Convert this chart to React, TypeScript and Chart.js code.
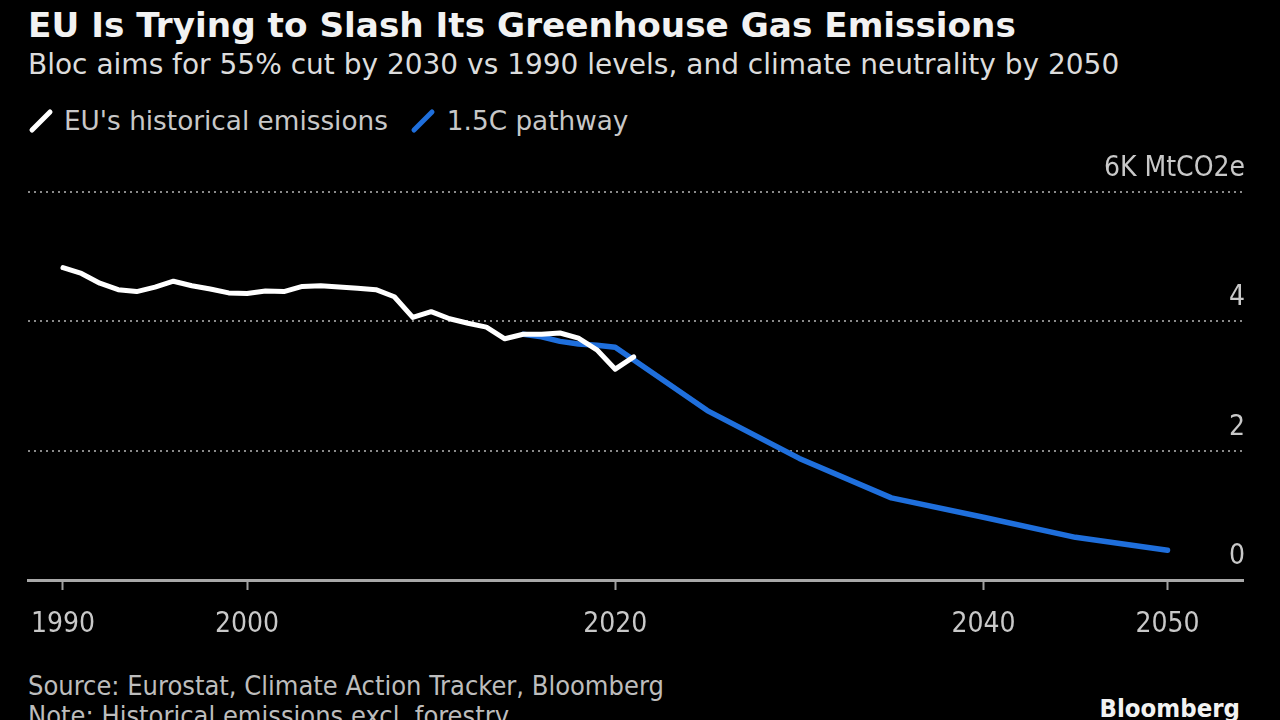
import React, { useEffect, useRef } from "react";
import { Chart, registerables } from "chart.js";
Chart.register(...registerables);

const historicalYears = [1990, 1991, 1992, 1993, 1994, 1995, 1996, 1997, 1998, 1999, 2000, 2001, 2002, 2003, 2004, 2005, 2006, 2007, 2008, 2009, 2010, 2011, 2012, 2013, 2014, 2015, 2016, 2017, 2018, 2019, 2020, 2021];
const historicalValues = [4.83, 4.74, 4.59, 4.49, 4.46, 4.53, 4.62, 4.55, 4.5, 4.44, 4.43, 4.47, 4.46, 4.54, 4.55, 4.53, 4.51, 4.49, 4.38, 4.06, 4.15, 4.04, 3.97, 3.91, 3.73, 3.8, 3.8, 3.82, 3.74, 3.56, 3.26, 3.45];

const pathwayYears = [2015, 2016, 2017, 2018, 2019, 2020, 2025, 2030, 2035, 2040, 2045, 2050];
const pathwayValues = [3.8, 3.76, 3.69, 3.65, 3.63, 3.6, 2.62, 1.88, 1.27, 0.97, 0.66, 0.46];

const xTickYears = [1990, 2000, 2020, 2040, 2050];
const yTickValues = [0, 2, 4, 6];
const yTickLabels = ["0", "2", "4", "6K MtCO2e"];

const FONT_C = '"DejaVu Sans Condensed", "DejaVu Sans", sans-serif';
const FONT = '"DejaVu Sans", sans-serif';
const WHITE = "#ffffff";
const BLUE = "#1f6fdc";
const LABEL = "#c8c8c8";

const yLabelPlugin = {
  id: "yLabels",
  afterDraw(chart: any) {
    const { ctx, chartArea, scales } = chart;
    const y = scales.y;
    ctx.save();
    ctx.font = `28px ${FONT_C}`;
    ctx.fillStyle = LABEL;
    ctx.textAlign = "right";
    ctx.textBaseline = "alphabetic";
    yTickValues.forEach((v, i) => {
      ctx.fillText(yTickLabels[i], chartArea.right + 2, y.getPixelForValue(v) - 16);
    });
    ctx.restore();
  },
};

function LegendIcon({ color }: { color: string }) {
  return (
    <svg width="26" height="26" style={{ display: "block" }}>
      <line x1="4" y1="22" x2="22" y2="4" stroke={color} strokeWidth="5" strokeLinecap="round" />
    </svg>
  );
}

export default function App() {
  const canvasRef = useRef<HTMLCanvasElement | null>(null);

  useEffect(() => {
    if (!canvasRef.current) return;
    const chart = new Chart(canvasRef.current, {
      type: "line",
      data: {
        datasets: [
          {
            label: "EU's historical emissions",
            data: historicalYears.map((x, i) => ({ x, y: historicalValues[i] })),
            borderColor: WHITE,
            borderWidth: 5,
            pointRadius: 0,
            tension: 0,
            borderJoinStyle: "round",
            borderCapStyle: "round",
            order: 0,
          },
          {
            label: "1.5C pathway",
            data: pathwayYears.map((x, i) => ({ x, y: pathwayValues[i] })),
            borderColor: BLUE,
            borderWidth: 5.5,
            pointRadius: 0,
            tension: 0,
            borderJoinStyle: "round",
            borderCapStyle: "round",
            order: 1,
          },
        ],
      },
      options: {
        animation: false,
        responsive: false,
        maintainAspectRatio: false,
        layout: { padding: { left: 28, right: 37, top: 62, bottom: 0 } },
        plugins: { legend: { display: false }, tooltip: { enabled: false } },
        scales: {
          x: {
            type: "linear",
            min: 1988.1,
            max: 2054.1,
            afterBuildTicks: (scale: any) => {
              scale.ticks = xTickYears.map((v) => ({ value: v }));
            },
            afterFit: (scale: any) => {
              scale.height = 80;
            },
            ticks: {
              autoSkip: false,
              maxRotation: 0,
              padding: 18,
              color: LABEL,
              font: { family: FONT_C, size: 28 },
              callback: (v: any) => String(v),
            },
            grid: {
              display: true,
              drawOnChartArea: false,
              drawTicks: true,
              tickLength: 10,
              tickColor: "#a0a0a0",
              tickWidth: 2,
            },
            border: { display: true, color: "#a8a8a8", width: 3 },
          },
          y: {
            type: "linear",
            position: "right",
            min: 0,
            max: 6,
            afterBuildTicks: (scale: any) => {
              scale.ticks = yTickValues.map((v) => ({ value: v }));
            },
            afterFit: (scale: any) => {
              scale.width = 0;
            },
            ticks: { display: false },
            grid: {
              drawTicks: false,
              color: (ctx: any) => (ctx.tick && ctx.tick.value === 0 ? "rgba(0,0,0,0)" : "#8a8a8a"),
              lineWidth: 2,
            },
            border: { display: false, dash: [2, 4] },
          },
        },
      },
      plugins: [yLabelPlugin],
    } as any);
    return () => chart.destroy();
  }, []);

  return (
    <div
      style={{
        position: "fixed",
        left: 0,
        top: 0,
        width: 1280,
        height: 720,
        background: "#000",
        overflow: "hidden",
        fontFamily: FONT,
      }}
    >
      <div style={{ position: "absolute", left: 28, top: 5, fontSize: 34.25, lineHeight: "40px", fontWeight: "bold", color: "#f2f2f2", whiteSpace: "nowrap" }}>
        EU Is Trying to Slash Its Greenhouse Gas Emissions
      </div>
      <div style={{ position: "absolute", left: 28, top: 47, fontSize: 28, lineHeight: "36px", color: "#dcdcdc", whiteSpace: "nowrap" }}>
        Bloc aims for 55% cut by 2030 vs 1990 levels, and climate neutrality by 2050
      </div>
      <div style={{ position: "absolute", left: 28, top: 104, display: "flex", alignItems: "center", height: 34, fontSize: 26.3, color: LABEL, whiteSpace: "nowrap" }}>
        <LegendIcon color={WHITE} />
        <span style={{ marginLeft: 10, marginRight: 22 }}>EU's historical emissions</span>
        <LegendIcon color={BLUE} />
        <span style={{ marginLeft: 11 }}>1.5C pathway</span>
      </div>
      <canvas
        ref={canvasRef}
        width={1280}
        height={530}
        style={{ position: "absolute", left: 0, top: 130, width: 1280, height: 530 }}
      />
      <div style={{ position: "absolute", left: 28, top: 671, fontSize: 27, lineHeight: "30px", color: "#bdbdbd", whiteSpace: "nowrap", fontFamily: FONT_C }}>
        Source: Eurostat, Climate Action Tracker, Bloomberg
        <br />
        Note: Historical emissions excl. forestry
      </div>
      <div style={{ position: "absolute", right: 40, top: 692, fontSize: 25.5, lineHeight: "32px", fontWeight: "bold", color: "#f2f2f2", whiteSpace: "nowrap", fontFamily: FONT_C }}>
        Bloomberg
      </div>
    </div>
  );
}
